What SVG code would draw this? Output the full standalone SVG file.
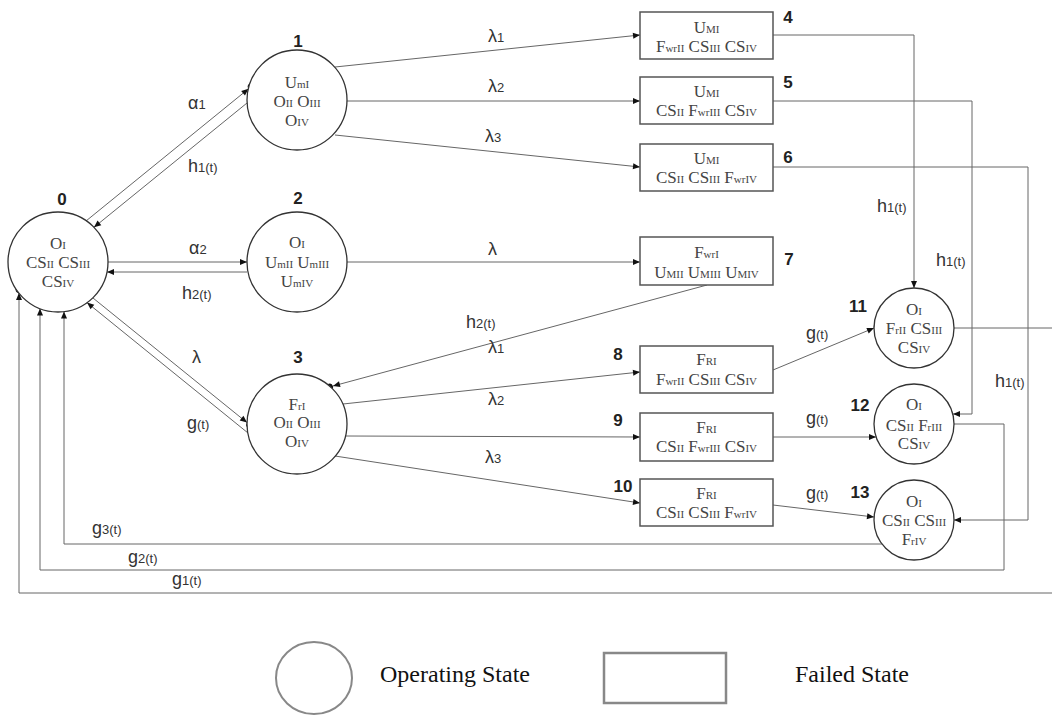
<svg xmlns="http://www.w3.org/2000/svg" width="1052" height="715" viewBox="0 0 1052 715">
<style>
.c{fill:#fff;stroke:#333;stroke-width:1.3}
.b{fill:#fff;stroke:#555;stroke-width:1.5}
.n{font-family:"Liberation Serif",serif;font-size:17px;fill:#444;text-anchor:middle}
.s{font-size:11px}
.num{font-family:"Liberation Sans",sans-serif;font-size:17px;font-weight:bold;fill:#222;text-anchor:middle}
.e{font-family:"Liberation Sans",sans-serif;font-size:18px;fill:#333}
.es{font-size:13px}
.l{fill:none;stroke:#666;stroke-width:1}
.lg{font-family:"Liberation Serif",serif;font-size:24px;fill:#111}
</style>
<defs>
<marker id="ad" viewBox="-8 -4 16 8" markerWidth="16" markerHeight="8" refX="0" refY="0" orient="auto" markerUnits="userSpaceOnUse">
<path d="M-7,-3 L0,0 L-7,3 z" fill="#111"/>
<circle cx="3.5" cy="0" r="3.4" fill="#111"/>
</marker>
<marker id="ar" viewBox="-8 -4 8 8" markerWidth="8" markerHeight="8" refX="0" refY="0" orient="auto" markerUnits="userSpaceOnUse">
<path d="M-7,-3 L0,0 L-7,3 z" fill="#111"/>
</marker>
</defs>
<g id="connectors">
<line class="l" x1="86" y1="221" x2="248.5" y2="88.8" marker-end="url(#ad)"/>
<line class="l" x1="247" y1="103" x2="94" y2="227.3" marker-end="url(#ad)"/>
<line class="l" x1="108" y1="262" x2="247" y2="262" marker-end="url(#ad)"/>
<line class="l" x1="247" y1="272" x2="107" y2="272" marker-end="url(#ad)"/>
<line class="l" x1="93" y1="298" x2="247" y2="422.6" marker-end="url(#ad)"/>
<line class="l" x1="248" y1="433" x2="87" y2="302.6" marker-end="url(#ad)"/>
<line class="l" x1="335" y1="67" x2="640" y2="35" marker-end="url(#ar)"/>
<line class="l" x1="347" y1="101" x2="640" y2="101" marker-end="url(#ar)"/>
<line class="l" x1="335" y1="135" x2="640" y2="167" marker-end="url(#ar)"/>
<line class="l" x1="347" y1="262" x2="640" y2="262" marker-end="url(#ar)"/>
<line class="l" x1="707" y1="285" x2="333" y2="386" marker-end="url(#ad)"/>
<line class="l" x1="343" y1="404" x2="640" y2="372" marker-end="url(#ar)"/>
<line class="l" x1="346" y1="436" x2="640" y2="437" marker-end="url(#ar)"/>
<line class="l" x1="335" y1="456" x2="640" y2="503" marker-end="url(#ar)"/>
<line class="l" x1="773" y1="370" x2="874" y2="328" marker-end="url(#ad)"/>
<line class="l" x1="773" y1="437" x2="876" y2="437" marker-end="url(#ad)"/>
<line class="l" x1="773" y1="505" x2="874" y2="517" marker-end="url(#ad)"/>
<polyline class="l" points="773,35 914,35 914,288" marker-end="url(#ad)"/>
<polyline class="l" points="773,101 972,101 972,414 953,414" marker-end="url(#ad)"/>
<polyline class="l" points="773,167 1028,167 1028,520 954,520" marker-end="url(#ad)"/>
<line class="l" x1="954" y1="328" x2="1052" y2="328"/>
<polyline class="l" points="1052,593 19,593 19,293" marker-end="url(#ad)"/>
<polyline class="l" points="954,424 1004,424 1004,570 40,570 40,308.6" marker-end="url(#ad)"/>
<polyline class="l" points="882,544 64,544 64,311.6" marker-end="url(#ad)"/>
</g>
<g id="edge-labels">
<text class="e" x="188" y="109">α<tspan class="es">1</tspan></text>
<text class="e" x="188" y="172">h<tspan class="es">1(t)</tspan></text>
<text class="e" x="189" y="254">α<tspan class="es">2</tspan></text>
<text class="e" x="182" y="299">h<tspan class="es">2(t)</tspan></text>
<text class="e" x="192" y="363">λ</text>
<text class="e" x="187" y="429">g<tspan class="es">(t)</tspan></text>
<text class="e" x="488" y="42">λ<tspan class="es">1</tspan></text>
<text class="e" x="488" y="92">λ<tspan class="es">2</tspan></text>
<text class="e" x="485" y="142">λ<tspan class="es">3</tspan></text>
<text class="e" x="488" y="255">λ</text>
<text class="e" x="466" y="328">h<tspan class="es">2(t)</tspan></text>
<text class="e" x="488" y="353">λ<tspan class="es">1</tspan></text>
<text class="e" x="488" y="405">λ<tspan class="es">2</tspan></text>
<text class="e" x="485" y="463">λ<tspan class="es">3</tspan></text>
<text class="e" x="877" y="212">h<tspan class="es">1(t)</tspan></text>
<text class="e" x="936" y="266">h<tspan class="es">1(t)</tspan></text>
<text class="e" x="995" y="387">h<tspan class="es">1(t)</tspan></text>
<text class="e" x="806" y="339">g<tspan class="es">(t)</tspan></text>
<text class="e" x="806" y="424">g<tspan class="es">(t)</tspan></text>
<text class="e" x="806" y="499">g<tspan class="es">(t)</tspan></text>
<text class="e" x="92" y="534">g<tspan class="es">3(t)</tspan></text>
<text class="e" x="128" y="563">g<tspan class="es">2(t)</tspan></text>
<text class="e" x="172" y="585">g<tspan class="es">1(t)</tspan></text>
</g>
<g id="node0">
<circle class="c" cx="58" cy="262" r="50"/>
<text class="num" x="62" y="205">0</text>
<text class="n" x="58" y="249">O<tspan class="s">I</tspan></text>
<text class="n" x="58" y="268">CS<tspan class="s">II</tspan> CS<tspan class="s">III</tspan></text>
<text class="n" x="58" y="287">CS<tspan class="s">IV</tspan></text>
</g>
<g id="node1">
<circle class="c" cx="297" cy="100" r="50"/>
<text class="num" x="298" y="47">1</text>
<text class="n" x="297" y="88">U<tspan class="s">mI</tspan></text>
<text class="n" x="297" y="107">O<tspan class="s">II</tspan> O<tspan class="s">III</tspan></text>
<text class="n" x="297" y="126">O<tspan class="s">IV</tspan></text>
</g>
<g id="node2">
<circle class="c" cx="297" cy="262" r="50"/>
<text class="num" x="298" y="204">2</text>
<text class="n" x="297" y="248">O<tspan class="s">I</tspan></text>
<text class="n" x="297" y="268">U<tspan class="s">mII</tspan> U<tspan class="s">mIII</tspan></text>
<text class="n" x="297" y="287">U<tspan class="s">mIV</tspan></text>
</g>
<g id="node3">
<circle class="c" cx="297" cy="424" r="50"/>
<text class="num" x="298" y="363">3</text>
<text class="n" x="297" y="410">F<tspan class="s">rI</tspan></text>
<text class="n" x="297" y="428">O<tspan class="s">II</tspan> O<tspan class="s">III</tspan></text>
<text class="n" x="297" y="447">O<tspan class="s">IV</tspan></text>
</g>
<g id="node4">
<rect class="b" x="640" y="12" width="133" height="47"/>
<text class="num" x="788" y="23">4</text>
<text class="n" x="706.5" y="33">U<tspan class="s">MI</tspan></text>
<text class="n" x="706.5" y="52">F<tspan class="s">wrII</tspan> CS<tspan class="s">III</tspan> CS<tspan class="s">IV</tspan></text>
</g>
<g id="node5">
<rect class="b" x="640" y="77" width="133" height="47"/>
<text class="num" x="788" y="88">5</text>
<text class="n" x="706.5" y="97">U<tspan class="s">MI</tspan></text>
<text class="n" x="706.5" y="116">CS<tspan class="s">II</tspan> F<tspan class="s">wrIII</tspan> CS<tspan class="s">IV</tspan></text>
</g>
<g id="node6">
<rect class="b" x="640" y="144" width="133" height="47"/>
<text class="num" x="788" y="163">6</text>
<text class="n" x="706.5" y="164">U<tspan class="s">MI</tspan></text>
<text class="n" x="706.5" y="183">CS<tspan class="s">II</tspan> CS<tspan class="s">III</tspan> F<tspan class="s">wrIV</tspan></text>
</g>
<g id="node7">
<rect class="b" x="640" y="237" width="133" height="48"/>
<text class="num" x="789" y="265">7</text>
<text class="n" x="706.5" y="258">F<tspan class="s">wrI</tspan></text>
<text class="n" x="706.5" y="278">U<tspan class="s">MII</tspan> U<tspan class="s">MIII</tspan> U<tspan class="s">MIV</tspan></text>
</g>
<g id="node8">
<rect class="b" x="640" y="346" width="133" height="47"/>
<text class="num" x="618" y="360">8</text>
<text class="n" x="706.5" y="365">F<tspan class="s">RI</tspan></text>
<text class="n" x="706.5" y="385">F<tspan class="s">wrII</tspan> CS<tspan class="s">III</tspan> CS<tspan class="s">IV</tspan></text>
</g>
<g id="node9">
<rect class="b" x="640" y="413" width="133" height="48"/>
<text class="num" x="618" y="426">9</text>
<text class="n" x="706.5" y="433">F<tspan class="s">RI</tspan></text>
<text class="n" x="706.5" y="452">CS<tspan class="s">II</tspan> F<tspan class="s">wrIII</tspan> CS<tspan class="s">IV</tspan></text>
</g>
<g id="node10">
<rect class="b" x="640" y="479" width="133" height="47"/>
<text class="num" x="623" y="492">10</text>
<text class="n" x="706.5" y="499">F<tspan class="s">RI</tspan></text>
<text class="n" x="706.5" y="518">CS<tspan class="s">II</tspan> CS<tspan class="s">III</tspan> F<tspan class="s">wrIV</tspan></text>
</g>
<g id="node11">
<circle class="c" cx="914" cy="328" r="40"/>
<text class="num" x="858" y="312">11</text>
<text class="n" x="914" y="315">O<tspan class="s">I</tspan></text>
<text class="n" x="914" y="334">F<tspan class="s">rII</tspan> CS<tspan class="s">III</tspan></text>
<text class="n" x="914" y="353">CS<tspan class="s">IV</tspan></text>
</g>
<g id="node12">
<circle class="c" cx="914" cy="424" r="40"/>
<text class="num" x="860" y="411">12</text>
<text class="n" x="914" y="410">O<tspan class="s">I</tspan></text>
<text class="n" x="914" y="431">CS<tspan class="s">II</tspan> F<tspan class="s">rIII</tspan></text>
<text class="n" x="914" y="449">CS<tspan class="s">IV</tspan></text>
</g>
<g id="node13">
<circle class="c" cx="914" cy="520" r="40"/>
<text class="num" x="860" y="498">13</text>
<text class="n" x="914" y="507">O<tspan class="s">I</tspan></text>
<text class="n" x="914" y="526">CS<tspan class="s">II</tspan> CS<tspan class="s">III</tspan></text>
<text class="n" x="914" y="545">F<tspan class="s">rIV</tspan></text>
</g>
<g id="legend">
<ellipse cx="314" cy="678" rx="38" ry="36" fill="#fff" stroke="#888" stroke-width="2"/>
<text class="lg" x="380" y="682">Operating State</text>
<rect x="604" y="653" width="122" height="50" fill="#fff" stroke="#888" stroke-width="2.5"/>
<text class="lg" x="795" y="682">Failed State</text>
</g>
</svg>
